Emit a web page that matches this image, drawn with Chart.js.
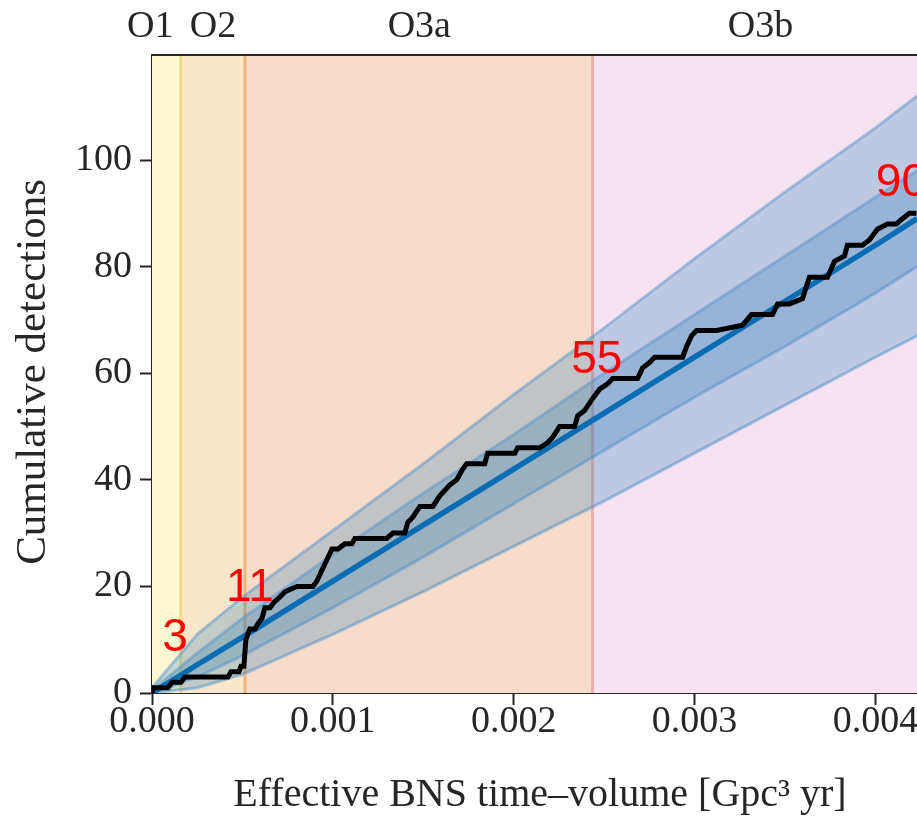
<!DOCTYPE html>
<html>
<head>
<meta charset="utf-8">
<script src="https://cdn.jsdelivr.net/npm/chart.js@4.4.1/dist/chart.umd.min.js"></script>
<style>
  html, body { margin: 0; padding: 0; background: #fff; overflow: hidden; }
  canvas { display: block; }
</style>
</head>
<body>
<canvas id="dataChart" width="917" height="816" style="width:917px;height:816px"></canvas>
<script>
// observing runs (edges in Gpc^3 yr)
var runNames = ["O1", "O2", "O3a", "O3b"];
var runEdges = [0, 0.000159, 0.000514, 0.002436, 0.00439];
var runLabelX = [-0.00001, 0.000337, 0.001478, 0.003365];

// expected detections and bands, read at these time-volumes
var gridX    = [0, 0.00025, 0.0005, 0.001, 0.0015, 0.002, 0.0025, 0.003, 0.0035, 0.004, 0.00423];
var expected = [0, 5.3, 10.5, 21, 31.5, 42, 52.5, 63, 73.5, 84, 89];
var outerHi  = [1, 11, 18, 30.5, 43, 56, 68.5, 81.5, 94, 106, 112];
var innerHi  = [0.5, 7.5, 14, 26, 37.5, 48.5, 60, 71, 82, 93, 98];
var innerLo  = [0, 3, 7, 16, 25.5, 35.5, 45.5, 55.5, 65, 75, 80];
var outerLo  = [0, 1, 3.5, 11, 19, 27.5, 36, 45, 54, 63, 67];

// observed cumulative detections
var obsX = [0, 0.000006, 0.000088, 0.000111, 0.000160, 0.000182, 0.000420, 0.000437, 0.000481, 0.000492,
  0.000508, 0.000519, 0.000530, 0.000541, 0.000569, 0.000586, 0.000608, 0.000624, 0.000652, 0.000674,
  0.000707, 0.000735, 0.000801, 0.000890, 0.000912, 0.000939, 0.000967, 0.000995, 0.001028, 0.001066,
  0.001105, 0.001122, 0.001298, 0.001332, 0.001398, 0.001414, 0.001442, 0.001481, 0.001553, 0.001591,
  0.001619, 0.001646, 0.001685, 0.001718, 0.001740, 0.001840, 0.001856, 0.002006, 0.002022, 0.002144,
  0.002188, 0.002216, 0.002254, 0.002337, 0.002354, 0.002392, 0.002431, 0.002475, 0.002519, 0.002547,
  0.002685, 0.002713, 0.002751, 0.002779, 0.002934, 0.002956, 0.002983, 0.003011, 0.003122, 0.003265,
  0.003315, 0.003431, 0.003459, 0.003525, 0.003597, 0.003635, 0.003735, 0.003774, 0.003829, 0.003845,
  0.003928, 0.003967, 0.004011, 0.004066, 0.004116, 0.004149, 0.004188, 0.004227];
var obsY = [0, 1, 1, 2, 2, 3, 3, 4, 4, 5,
  5, 10, 11, 12, 12, 13, 14, 16, 16, 17,
  18, 19, 20, 20, 21, 23, 25, 27, 27, 28,
  28, 29, 29, 30, 30, 32, 33, 35, 35, 37,
  38, 39, 40, 42, 43, 43, 45, 45, 46, 46,
  47, 48, 50, 50, 52, 53, 55, 57, 58, 59,
  59, 61, 62, 63, 63, 65, 67, 68, 68, 69,
  71, 71, 73, 73, 74, 78, 78, 81, 82, 84,
  84, 85, 87, 88, 88, 89, 90, 90];

// red counts written at the end of each run
var countText = ["3", "11", "55", "90"];
var countX = [0.000127, 0.000541, 0.002459, 0.004144];
var countY = [10.3, 19.7, 62.5, 95.7];

var yTicks = [0, 20, 40, 60, 80, 100];
var xTitle = "Effective BNS time\u2013volume [Gpc\u00b3 yr]";
var yTitle = "Cumulative detections";

var runFill = ["#fcf8d4", "#f8e7cb", "#f7dcca", "#f5e3f2"];
var runLine = ["#efd98b", "#ecb57c", "#e8b0b0"];

function pts(xs, ys) {
	return xs.map(function (x, i) { return {x: x, y: ys[i]}; });
}

var serif = "'Liberation Serif', 'DejaVu Serif', serif";
var ink = "#262626";
var edge = "rgba(90,150,205,0.5)";
var band = "rgba(31,119,180,0.25)";

var runsPlugin = {
	id: "runs",
	beforeDraw: function (c) {
		var g = c.ctx;
		g.save();
		g.fillStyle = "#fff";
		g.fillRect(0, 0, c.width, c.height);
		g.restore();
	},
	beforeDatasetsDraw: function (c) {
		var g = c.ctx, a = c.chartArea, xs = c.scales.x;
		g.save();
		g.beginPath();
		g.rect(a.left, a.top, a.right - a.left, a.bottom - a.top);
		g.clip();
		for (var i = 0; i < runNames.length; i++) {
			var x0 = xs.getPixelForValue(runEdges[i]);
			var x1 = xs.getPixelForValue(runEdges[i + 1]);
			g.fillStyle = runFill[i];
			g.fillRect(x0, a.top, x1 - x0, a.bottom - a.top);
		}
		for (var j = 0; j < runLine.length; j++) {
			var xl = xs.getPixelForValue(runEdges[j + 1]);
			g.strokeStyle = runLine[j];
			g.lineWidth = 3;
			g.beginPath();
			g.moveTo(xl, a.top);
			g.lineTo(xl, a.bottom);
			g.stroke();
		}
		g.restore();
	},
	afterDraw: function (c) {
		var g = c.ctx, a = c.chartArea, xs = c.scales.x, ys = c.scales.y;
		g.save();
		// top frame line
		g.strokeStyle = ink;
		g.lineWidth = 2;
		g.beginPath();
		g.moveTo(a.left - 1, a.top);
		g.lineTo(a.right, a.top);
		g.stroke();
		// run names above the frame
		g.fillStyle = ink;
		g.font = "38px " + serif;
		g.textAlign = "center";
		g.textBaseline = "middle";
		for (var i = 0; i < runNames.length; i++) {
			g.fillText(runNames[i], xs.getPixelForValue(runLabelX[i]), 27);
		}
		// axis titles
		g.font = "40px " + serif;
		g.textBaseline = "alphabetic";
		g.fillText(xTitle, 540, 806);
		g.textBaseline = "middle";
		g.save();
		g.translate(34, 372);
		g.rotate(-Math.PI / 2);
		g.font = "43px " + serif;
		g.fillText(yTitle, 0, 0);
		g.restore();
		// red counts
		g.fillStyle = "#ff0000";
		g.font = "46px 'Liberation Sans', Arial, sans-serif";
		for (var k = 0; k < countText.length; k++) {
			g.fillText(countText[k], xs.getPixelForValue(countX[k]), ys.getPixelForValue(countY[k]));
		}
		g.restore();
	}
};

var ctx = document.getElementById("dataChart");

var chart = new Chart(ctx, {
	type: "line",
	data: {
		datasets: [{
			label: "observed",
			data: pts(obsX, obsY),
			borderColor: "#000",
			borderWidth: 5,
			pointRadius: 0,
			fill: false
		}, {
			label: "expected",
			data: pts(gridX, expected),
			borderColor: "#0a6db3",
			borderWidth: 5.5,
			pointRadius: 0,
			fill: false
		}, {
			label: "inner upper",
			data: pts(gridX, innerHi),
			borderColor: edge,
			borderWidth: 3,
			pointRadius: 0,
			backgroundColor: band,
			fill: {target: 3}
		}, {
			label: "inner lower",
			data: pts(gridX, innerLo),
			borderColor: edge,
			borderWidth: 3,
			pointRadius: 0,
			fill: false
		}, {
			label: "outer upper",
			data: pts(gridX, outerHi),
			borderColor: edge,
			borderWidth: 3,
			pointRadius: 0,
			backgroundColor: band,
			fill: {target: 5}
		}, {
			label: "outer lower",
			data: pts(gridX, outerLo),
			borderColor: edge,
			borderWidth: 3,
			pointRadius: 0,
			fill: false
		}]
	},
	options: {
		responsive: false,
		animation: false,
		layout: {padding: {top: 55, right: 0, left: 0, bottom: 0}},
		plugins: {legend: {display: false}, tooltip: {enabled: false}},
		scales: {
			x: {
				type: "linear",
				min: 0,
				max: 0.00423,
				afterFit: function (s) { s.height = 123; s.paddingLeft = 0; s.paddingRight = 0; },
				border: {display: true, color: ink, width: 2},
				grid: {drawOnChartArea: false, tickLength: 12, tickWidth: 2, tickColor: ink},
				ticks: {
					stepSize: 0.001,
					includeBounds: false,
					maxRotation: 0,
					autoSkip: false,
					padding: -2,
					color: ink,
					font: {family: serif, size: 38, lineHeight: 1},
					callback: function (v) { return v.toFixed(3); }
				}
			},
			y: {
				min: 0,
				max: 119.7,
				afterFit: function (s) { s.width = 152; s.paddingTop = 0; s.paddingBottom = 0; },
				afterBuildTicks: function (s) { s.ticks = yTicks.map(function (v) { return {value: v}; }); },
				border: {display: true, color: ink, width: 2},
				grid: {drawOnChartArea: false, tickLength: 12, tickWidth: 2, tickColor: ink},
				ticks: {
					padding: 8,
					color: ink,
					font: {family: serif, size: 38}
				}
			}
		}
	},
	plugins: [runsPlugin]
});
</script>
</body>
</html>
